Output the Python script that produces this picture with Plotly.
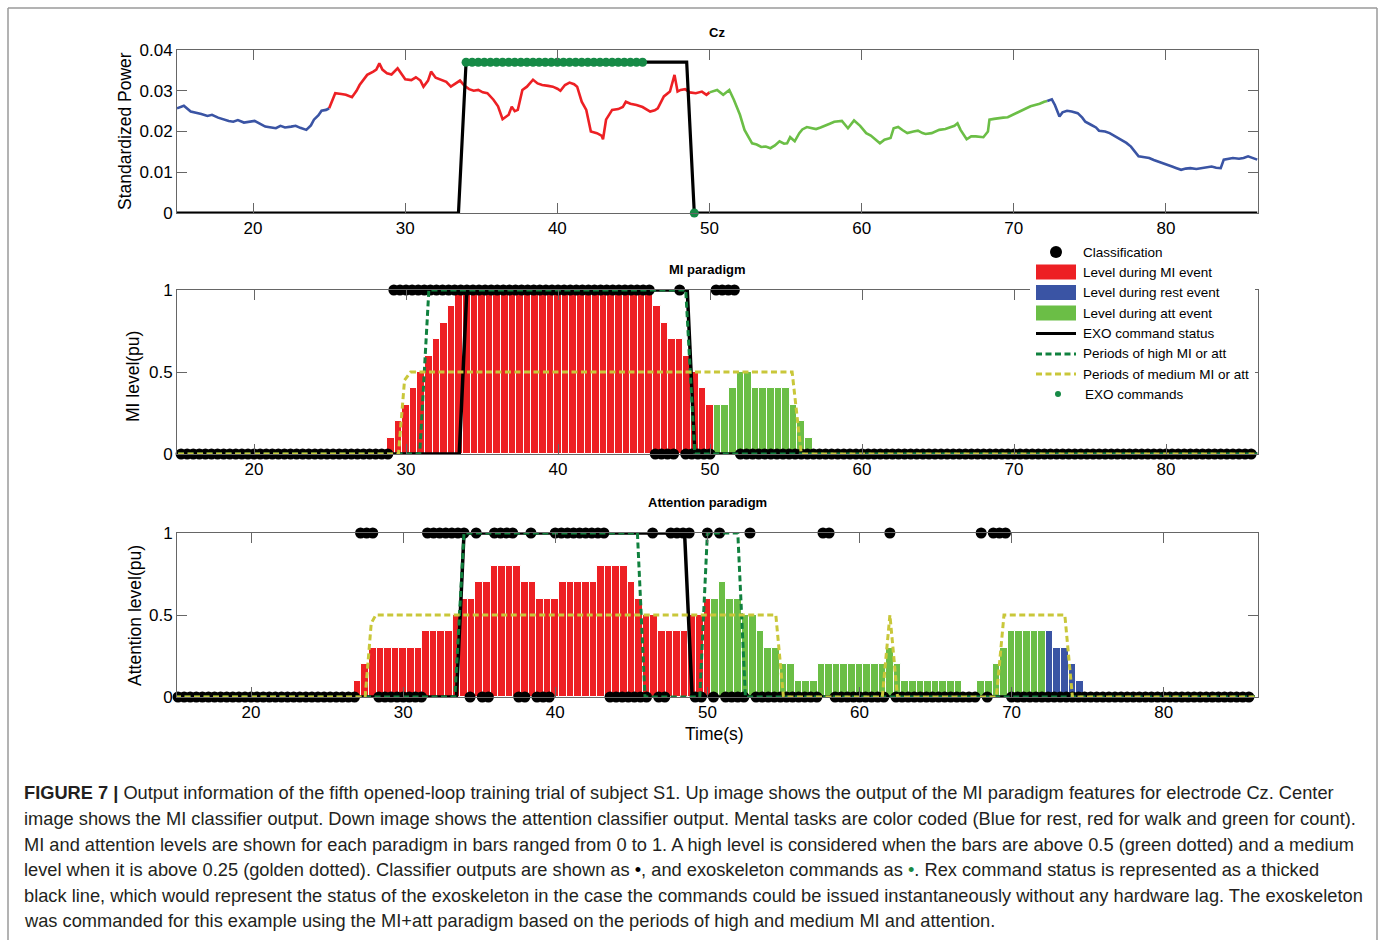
import plotly.graph_objects as go

W, H = 1379, 940
FONT = "Liberation Sans, Arial, sans-serif"

# ------------------------------------------------------------------ data
# Top panel: standardized power at Cz (time in s, power)
cz_time = [15.0, 15.45, 15.9, 16.3, 16.6, 17.0, 17.3, 17.7, 18.0, 18.4, 18.7, 19.0, 19.4, 19.8,
           20.1, 20.5, 20.8, 21.2, 21.5, 21.8, 22.1, 22.5, 22.8, 23.1, 23.5, 23.8, 24.0, 24.3,
           24.5, 24.8, 25.0, 25.4, 25.8, 26.1, 26.5, 26.8, 27.0, 27.3, 27.5, 27.9, 28.1, 28.3,
           28.5, 28.8, 29.1, 29.5, 29.8, 30.0, 30.4, 30.7, 31.0, 31.2, 31.5, 31.7, 32.0, 32.3,
           32.7, 33.0, 33.3, 33.6, 33.9, 34.2, 34.5, 34.8, 35.1, 35.4, 35.8, 36.1, 36.4, 36.8,
           37.0, 37.2, 37.4, 37.7, 38.0, 38.4, 38.7, 39.0, 39.4, 39.7, 40.0, 40.2, 40.5, 40.8,
           41.1, 41.3, 41.6, 41.9, 42.2, 42.6, 42.9, 43.0, 43.2, 43.6, 44.0, 44.3, 44.5, 44.8,
           45.2, 45.6, 46.1, 46.4, 46.6, 47.0, 47.4, 47.7, 47.9, 48.1, 48.4, 48.7, 49.1, 49.5,
           49.8, 50.0, 50.5, 50.9, 51.3, 51.6, 52.0, 52.3, 52.8, 53.1, 53.4, 53.7, 54.0, 54.3,
           54.6, 54.9, 55.1, 55.3, 55.6, 55.9, 56.1, 56.4, 56.7, 57.0, 57.3, 57.6, 57.9, 58.2,
           58.5, 58.7, 59.1, 59.5, 59.9, 60.1, 60.3, 60.6, 60.8, 61.2, 61.5, 61.9, 62.1, 62.4,
           62.7, 63.0, 63.4, 63.7, 64.0, 64.2, 64.6, 65.1, 65.5, 65.8, 66.1, 66.3, 66.5, 66.9,
           67.2, 67.5, 68.0, 68.3, 68.4, 68.7, 69.0, 69.3, 69.6, 69.9, 70.2, 70.5, 70.8, 71.1,
           71.4, 71.7, 72.0, 72.2, 72.5, 72.7, 73.0, 73.2, 73.5, 73.8, 74.2, 74.5, 74.7, 75.1,
           75.4, 75.6, 76.0, 76.3, 76.7, 77.0, 77.4, 77.7, 78.0, 78.2, 78.6, 78.9, 79.2, 79.6,
           80.0, 80.4, 80.7, 81.0, 81.3, 81.6, 82.0, 82.3, 82.7, 83.0, 83.3, 83.6, 83.8, 84.1,
           84.4, 84.8, 85.1, 85.4, 85.7, 86.0]
cz_power = [0.0257, 0.0263, 0.0249, 0.0246, 0.0243, 0.0238, 0.0241, 0.0234, 0.0230, 0.0226,
            0.0224, 0.0228, 0.0222, 0.0225, 0.0226, 0.0218, 0.0212, 0.0210, 0.0208, 0.0214,
            0.0210, 0.0212, 0.0214, 0.0209, 0.0204, 0.0215, 0.0229, 0.0240, 0.0251, 0.0253,
            0.0257, 0.0294, 0.0292, 0.0290, 0.0284, 0.0300, 0.0314, 0.0330, 0.0339, 0.0347,
            0.0352, 0.0367, 0.0352, 0.0343, 0.0340, 0.0355, 0.0340, 0.0328, 0.0326, 0.0333,
            0.0325, 0.0310, 0.0325, 0.0347, 0.0332, 0.0328, 0.0322, 0.0310, 0.0318, 0.0325,
            0.0312, 0.0304, 0.0300, 0.0302, 0.0296, 0.0294, 0.0278, 0.0262, 0.0230, 0.0241,
            0.0261, 0.0250, 0.0253, 0.0302, 0.0310, 0.0327, 0.0318, 0.0314, 0.0312, 0.0310,
            0.0305, 0.0300, 0.0314, 0.0320, 0.0316, 0.0310, 0.0273, 0.0253, 0.0200, 0.0196,
            0.0190, 0.0181, 0.0229, 0.0253, 0.0255, 0.0260, 0.0273, 0.0268, 0.0265, 0.0260,
            0.0249, 0.0252, 0.0257, 0.0286, 0.0298, 0.0339, 0.0298, 0.0302, 0.0304, 0.0296,
            0.0294, 0.0298, 0.0290, 0.0296, 0.0302, 0.0290, 0.0302, 0.0278, 0.0241, 0.0204,
            0.0171, 0.0168, 0.0162, 0.0163, 0.0159, 0.0166, 0.0176, 0.0170, 0.0171, 0.0186,
            0.0176, 0.0196, 0.0205, 0.0211, 0.0208, 0.0206, 0.0210, 0.0214, 0.0219, 0.0224,
            0.0225, 0.0226, 0.0208, 0.0227, 0.0214, 0.0205, 0.0196, 0.0190, 0.0184, 0.0171,
            0.0180, 0.0184, 0.0208, 0.0211, 0.0203, 0.0196, 0.0200, 0.0202, 0.0196, 0.0194,
            0.0196, 0.0204, 0.0206, 0.0211, 0.0214, 0.0220, 0.0204, 0.0181, 0.0188, 0.0188,
            0.0186, 0.0200, 0.0229, 0.0231, 0.0233, 0.0234, 0.0235, 0.0240, 0.0247, 0.0250,
            0.0257, 0.0262, 0.0265, 0.0268, 0.0273, 0.0275, 0.0279, 0.0265, 0.0237, 0.0247,
            0.0251, 0.0249, 0.0245, 0.0234, 0.0224, 0.0216, 0.0210, 0.0202, 0.0200, 0.0196,
            0.0188, 0.0180, 0.0172, 0.0163, 0.0150, 0.0139, 0.0137, 0.0135, 0.0130, 0.0124,
            0.0119, 0.0114, 0.0110, 0.0106, 0.0109, 0.0110, 0.0108, 0.0110, 0.0112, 0.0114,
            0.0111, 0.0110, 0.0131, 0.0133, 0.0135, 0.0133, 0.0135, 0.0139, 0.0135, 0.0131]

# mental-task cue segments (start, end, task)
task_segments = [(15.0, 25.0, "rest"), (25.0, 50.0, "MI"), (50.0, 72.2, "att"), (72.2, 86.0, "rest")]

# exoskeleton command status (0 = stop, 1 = walk)
exo_status_time = [15.0, 33.5, 34.0, 48.5, 49.0, 86.0]
exo_status = [0, 0, 1, 1, 0, 0]
exo_top_level = 0.037
# exoskeleton commands issued
exo_cmd_on_time = [34.0, 34.4, 34.8, 35.2, 35.6, 36.0, 36.4, 36.8, 37.2, 37.6, 38.0, 38.4, 38.8,
                   39.2, 39.6, 40.0, 40.4, 40.8, 41.2, 41.6, 42.0, 42.4, 42.8, 43.2, 43.6, 44.0,
                   44.4, 44.8, 45.2, 45.6]
exo_cmd_off_time = [49.0]

# MI paradigm levels (bars of 0.5 s starting at mi_bar_start)
bar_width = 0.5
mi_bar_start = 29.0
mi_bar_level = [0.1, 0.2, 0.3, 0.4, 0.5, 0.6, 0.7, 0.8, 0.9, 1.0,
                1.0, 1.0, 1.0, 1.0, 1.0, 1.0, 1.0, 1.0, 1.0, 1.0, 1.0, 1.0, 1.0,
                1.0, 1.0, 1.0, 1.0, 1.0, 1.0, 1.0, 1.0, 1.0, 1.0, 1.0, 1.0,
                0.9, 0.8, 0.7, 0.7, 0.6, 0.5, 0.4, 0.3,
                0.3, 0.3, 0.4, 0.5, 0.5, 0.4, 0.4, 0.4, 0.4, 0.4, 0.3, 0.2, 0.1]
mi_bar_task_runs = [("MI", 43), ("att", 13)]

# Attention paradigm levels
att_bar_start = 27.0
att_bar_level = [0.1, 0.2, 0.3, 0.3, 0.3, 0.3, 0.3, 0.3, 0.3, 0.4, 0.4, 0.4, 0.4, 0.5,
                 0.6, 0.6, 0.7, 0.7, 0.8, 0.8, 0.8, 0.8, 0.7, 0.7, 0.6, 0.6, 0.6,
                 0.7, 0.7, 0.7, 0.7, 0.7, 0.8, 0.8, 0.8, 0.8, 0.7, 0.6, 0.5, 0.5,
                 0.4, 0.4, 0.4, 0.4, 0.5, 0.5, 0.6,
                 0.6, 0.7, 0.6, 0.6, 0.5, 0.5, 0.4, 0.3, 0.3, 0.2, 0.2, 0.1, 0.1, 0.1,
                 0.2, 0.2, 0.2, 0.2, 0.2, 0.2, 0.2, 0.2, 0.2, 0.3, 0.2,
                 0.1, 0.1, 0.1, 0.1, 0.1, 0.1, 0.1, 0.1, 0.0, 0.0, 0.1, 0.1, 0.2, 0.3,
                 0.4, 0.4, 0.4, 0.4, 0.4,
                 0.4, 0.3, 0.3, 0.2, 0.1]
att_bar_task_runs = [("MI", 47), ("att", 44), ("rest", 5)]

# periods of high / medium level
mi_high_time = [15.0, 30.9, 31.5, 48.4, 49.0, 86.0]
mi_high = [0, 0, 1, 1, 0, 0]
mi_med_time = [15.0, 29.5, 29.9, 30.3, 55.4, 56.0, 86.0]
mi_med = [0, 0, 0.45, 0.5, 0.5, 0, 0]
att_high_time = [15.0, 33.4, 34.0, 45.4, 45.9, 49.5, 50.0, 52.0, 52.5, 86.0]
att_high = [0, 0, 1, 1, 0, 0, 1, 1, 0, 0]
att_med_time = [15.0, 27.5, 27.9, 28.2, 54.5, 55.0, 61.5, 62.0, 62.5, 69.0, 69.5, 73.5, 74.0, 86.0]
att_med = [0, 0, 0.45, 0.5, 0.5, 0, 0, 0.5, 0, 0, 0.5, 0.5, 0, 0]

# classifier outputs (run lengths of 0/1 outputs, one output every 0.4 s from 15.2 s)
class_t0, class_dt = 15.2, 0.4
mi_class_runs = [(0, 35), (1, 43), (0, 4), (1, 1), (0, 5), (1, 4), (0, 85)]
att_class_runs = [(0, 30), (1, 3), (0, 8), (1, 7), (0, 1), (1, 1), (0, 2), (1, 4), (0, 2), (1, 1),
                  (0, 3), (1, 9), (0, 7), (1, 1), (0, 2), (1, 4), (0, 2), (1, 1), (0, 1), (1, 1),
                  (0, 4), (1, 1), (0, 11), (1, 2), (0, 9), (1, 1), (0, 14), (1, 1), (0, 1), (1, 3),
                  (0, 40)]

x_ticks = [20, 30, 40, 50, 60, 70, 80]
cz_ticks = [0, 0.01, 0.02, 0.03, 0.04]
cz_tick_text = ["0", "0.01", "0.02", "0.03", "0.04"]
lvl_ticks = [0, 0.5, 1]
lvl_tick_text = ["0", "0.5", "1"]

legend_labels = ["Classification", "Level during MI event", "Level during rest event",
                 "Level during att event", "EXO command status", "Periods of high MI or att",
                 "Periods of medium MI or att", "EXO commands"]

caption_lines = [
    "<b>FIGURE 7 |</b> Output information of the fifth opened-loop training trial of subject S1. Up image shows the output of the MI paradigm features for electrode Cz. Center",
    "image shows the MI classifier output. Down image shows the attention classifier output. Mental tasks are color coded (Blue for rest, red for walk and green for count).",
    "MI and attention levels are shown for each paradigm in bars ranged from 0 to 1. A high level is considered when the bars are above 0.5 (green dotted) and a medium",
    "level when it is above 0.25 (golden dotted). Classifier outputs are shown as <span style='color:#000'>\u2022</span>, and exoskeleton commands as <span style='color:#1a8a45'>\u2022</span>. Rex command status is represented as a thicked",
    "black line, which would represent the status of the exoskeleton in the case the commands could be issued instantaneously without any hardware lag. The exoskeleton",
    "was commanded for this example using the MI+att paradigm based on the periods of high and medium MI and attention.",
]

# ------------------------------------------------------------------ styles
RED, BLUE, LGREEN = "#ED2024", "#3A54A4", "#6BBE46"
task_colors = {"MI": RED, "rest": BLUE, "att": LGREEN}
DGREEN, YELLOW, CMDGREEN = "#10813E", "#C9C73A", "#168A46"
AXC = "#666666"
DASH = "6px,3.5px"


def px(x):
    return x / W


def py(y):
    return 1 - y / H


def expand_runs(runs):
    out = []
    for v, n in runs:
        out += [v] * n
    return out


fig = go.Figure()

# ---------------- top panel
for (s, e, task) in task_segments:
    tt = [t for t in cz_time if s <= t <= e]
    pp = [p for t, p in zip(cz_time, cz_power) if s <= t <= e]
    fig.add_trace(go.Scatter(x=tt, y=pp, mode="lines", line=dict(color=task_colors[task], width=2.6),
                             xaxis="x", yaxis="y", showlegend=False, cliponaxis=False))
fig.add_trace(go.Scatter(x=exo_status_time, y=[v * exo_top_level for v in exo_status], mode="lines",
                         line=dict(color="black", width=3.2), xaxis="x", yaxis="y",
                         showlegend=False, cliponaxis=False))
fig.add_trace(go.Scatter(x=exo_cmd_on_time + exo_cmd_off_time,
                         y=[exo_top_level] * len(exo_cmd_on_time) + [0] * len(exo_cmd_off_time),
                         mode="markers", marker=dict(color=CMDGREEN, size=9),
                         xaxis="x", yaxis="y", showlegend=False, cliponaxis=False))


def level_panel(xa, ya, start, levels, task_runs, class_runs, high_t, high_v, med_t, med_v):
    tasks = expand_runs([(k, n) for k, n in task_runs])
    centers = [start + bar_width * i for i in range(len(levels))]
    for task in ["MI", "att", "rest"]:
        xs = [c for c, tk in zip(centers, tasks) if tk == task]
        ys = [l for l, tk in zip(levels, tasks) if tk == task]
        if xs:
            fig.add_trace(go.Bar(x=xs, y=ys, width=bar_width, marker=dict(color=task_colors[task],
                                 line=dict(color="white", width=1)), xaxis=xa, yaxis=ya, showlegend=False))
    cls = expand_runs(class_runs)
    ct = [class_t0 + class_dt * i for i in range(len(cls))]
    fig.add_trace(go.Scatter(x=ct, y=cls, mode="markers", marker=dict(color="black", size=11),
                             xaxis=xa, yaxis=ya, showlegend=False, cliponaxis=False))
    fig.add_trace(go.Scatter(x=exo_status_time, y=exo_status, mode="lines",
                             line=dict(color="black", width=3.5), xaxis=xa, yaxis=ya,
                             showlegend=False, cliponaxis=False))
    fig.add_trace(go.Scatter(x=high_t, y=high_v, mode="lines",
                             line=dict(color=DGREEN, width=3, dash=DASH), xaxis=xa, yaxis=ya,
                             showlegend=False, cliponaxis=False))
    fig.add_trace(go.Scatter(x=med_t, y=med_v, mode="lines",
                             line=dict(color=YELLOW, width=3, dash=DASH), xaxis=xa, yaxis=ya,
                             showlegend=False, cliponaxis=False))


level_panel("x2", "y2", mi_bar_start, mi_bar_level, mi_bar_task_runs, mi_class_runs,
            mi_high_time, mi_high, mi_med_time, mi_med)
level_panel("x3", "y3", att_bar_start, att_bar_level, att_bar_task_runs, att_class_runs,
            att_high_time, att_high, att_med_time, att_med)

# ---------------- axes
tickfont = dict(family=FONT, size=17, color="black")


def xax(domain, anchor, rng):
    return dict(domain=domain, anchor=anchor, range=rng, tickvals=x_ticks,
                ticktext=[str(v) for v in x_ticks], ticks="inside", ticklen=10, tickcolor=AXC,
                showline=True, linecolor=AXC, linewidth=1, mirror="ticks", showgrid=False,
                zeroline=False, tickfont=tickfont, automargin=False, fixedrange=True)


def yax(domain, anchor, rng, tv, tt):
    return dict(domain=domain, anchor=anchor, range=rng, tickvals=tv, ticktext=tt,
                ticks="inside", ticklen=10, tickcolor=AXC, showline=True, linecolor=AXC,
                linewidth=1, mirror="ticks", showgrid=False, zeroline=False, tickfont=tickfont,
                automargin=False, fixedrange=True)


xd = [px(177), px(1258)]
fig.update_layout(
    xaxis=xax(xd, "y", [15, 86.05]),
    yaxis=yax([py(213), py(50)], "x", [0, 0.04], cz_ticks, cz_tick_text),
    xaxis2=xax(xd, "y2", [14.93, 86.05]),
    yaxis2=yax([py(454), py(290)], "x2", [0, 1], lvl_ticks, lvl_tick_text),
    xaxis3=xax(xd, "y3", [15.13, 86.2]),
    yaxis3=yax([py(697), py(533)], "x3", [0, 1], lvl_ticks, lvl_tick_text),
    barmode="overlay", bargap=0,
    width=W, height=H, margin=dict(l=0, r=0, t=0, b=0),
    paper_bgcolor="white", plot_bgcolor="white", showlegend=False,
    font=dict(family=FONT, color="black"),
)

ann = []


def text(x, y, s, size, bold=False, angle=0, xanchor="center", color="black"):
    ann.append(dict(x=px(x), y=py(y), xref="paper", yref="paper", text=("<b>%s</b>" % s) if bold else s,
                    showarrow=False, xanchor=xanchor, yanchor="middle", textangle=angle,
                    font=dict(family=FONT, size=size, color=color)))


text(717, 33, "Cz", 13, bold=True)
text(707, 269, "MI paradigm", 13, bold=True)
text(707, 502, "Attention paradigm", 13, bold=True)
text(125, 131, "Standardized Power", 17.5, angle=-90)
text(133, 377, "MI level(pu)", 17.5, angle=-90)
text(135, 616, "Attention level(pu)", 17.5, angle=-90)
text(715, 734, "Time(s)", 17.5)

# ---------------- manual legend
shapes = []
shapes.append(dict(type="rect", xref="paper", yref="paper", x0=px(1030), x1=px(1255), y0=py(240), y1=py(404),
                   fillcolor="white", line=dict(width=0), layer="above"))
rows = [252, 272, 292.5, 313, 333.5, 354, 374, 394]
sx0, sx1 = 1036, 1076
shapes.append(dict(type="circle", xref="paper", yref="paper", x0=px(1050), x1=px(1062), y0=py(rows[0] + 6),
                   y1=py(rows[0] - 6), fillcolor="black", line=dict(width=0), layer="above"))
for r, c in zip(rows[1:4], [RED, BLUE, LGREEN]):
    shapes.append(dict(type="rect", xref="paper", yref="paper", x0=px(sx0), x1=px(sx1), y0=py(r + 7.5),
                       y1=py(r - 7.5), fillcolor=c, line=dict(width=0), layer="above"))
for r, c, d in zip(rows[4:7], ["black", DGREEN, YELLOW], ["solid", DASH, DASH]):
    shapes.append(dict(type="line", xref="paper", yref="paper", x0=px(sx0), x1=px(sx1), y0=py(r), y1=py(r),
                       line=dict(color=c, width=3, dash=d), layer="above"))
shapes.append(dict(type="circle", xref="paper", yref="paper", x0=px(1055), x1=px(1061), y0=py(rows[7] + 3),
                   y1=py(rows[7] - 3), fillcolor=CMDGREEN, line=dict(width=0), layer="above"))
for i, (r, lab) in enumerate(zip(rows, legend_labels)):
    text(1081 if i < 7 else 1083, r, lab, 13.5, xanchor="left")

# ---------------- outer frame
fc = "#9a9a9a"
shapes.append(dict(type="line", xref="paper", yref="paper", x0=px(8), x1=px(8), y0=py(8), y1=0,
                   line=dict(color=fc, width=1.5), layer="above"))
shapes.append(dict(type="line", xref="paper", yref="paper", x0=px(8), x1=px(1377), y0=py(8), y1=py(8),
                   line=dict(color=fc, width=1.5), layer="above"))
shapes.append(dict(type="line", xref="paper", yref="paper", x0=px(1377), x1=px(1377), y0=py(8), y1=0,
                   line=dict(color=fc, width=1.5), layer="above"))

# ---------------- caption
cap_y = [792, 818, 844, 869.5, 895, 920]
for y, line in zip(cap_y, caption_lines):
    text(22, y, line, 18.25, xanchor="left", color="#231f20")

fig.update_layout(annotations=ann, shapes=shapes)
fig.write_html("out.html", config={"displayModeBar": False},
               post_script="document.body.style.margin='0';")
